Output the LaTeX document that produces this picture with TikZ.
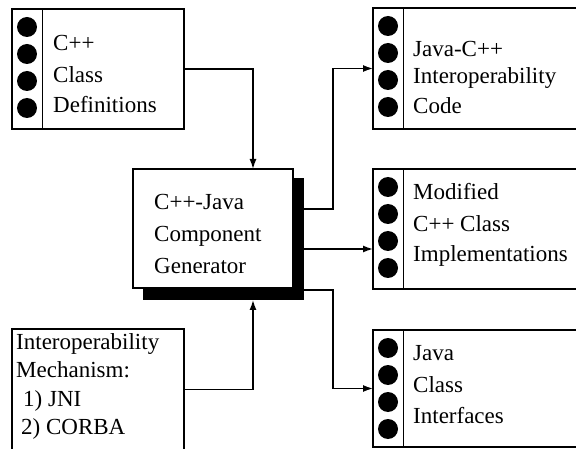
\documentclass[tikz,border=0pt]{standalone}
\usepackage{fontspec}
\setmainfont{Liberation Serif}
\usetikzlibrary{arrows.meta,calc}
\newcommand\dotcolumn[1]{%
  \foreach \o in {18,45,72,99}{\fill ($(#1.north west)+(15,\o)$) circle[radius=10pt];}
  \draw[line width=1.4pt] ($(#1.north west)+(30.5,0)$) -- ($(#1.south west)+(30.5,0)$);}
\begin{document}
\begin{tikzpicture}[x=1pt,y=-1pt,
  box/.style={draw,line width=1.4pt,inner sep=0pt,outer sep=0pt,anchor=north west,fill=white},
  lbl/.style={anchor=base west,inner sep=0pt,font=\fontsize{23}{28}\selectfont},
  arr/.style={line width=1.4pt,-{Latex[length=10pt,width=7pt]}}]
\useasboundingbox (0,0) rectangle (576,449);
\clip (0,0) rectangle (576,449);
% boxes
\node[box,minimum width=172pt,minimum height=120pt] (defs) at (12,9) {};
\node[box,minimum width=217pt,minimum height=121pt] (jcode) at (373,8) {};
\node[box,minimum width=217pt,minimum height=120pt] (mod) at (373,169) {};
\node[box,minimum width=217pt,minimum height=117pt] (jint) at (373,330) {};
\node[box,minimum width=172pt,minimum height=121pt] (mech) at (12,329) {};
\node[box,draw=none,fill=black,minimum width=161pt,minimum height=122pt] (gshadow) at (143,178) {};
\node[box,minimum width=160pt,minimum height=119pt] (gen) at (133,169) {};
\dotcolumn{defs}
\dotcolumn{jcode}
\dotcolumn{mod}
\dotcolumn{jint}
% texts
\node[lbl] (t1a) at (53,51) {C++};
\node[lbl] (t1b) at (53,83) {Class};
\node[lbl] (t1c) at (53,113) {Definitions};
\node[lbl] (t2a) at (413,57) {Java-C++};
\node[lbl] (t2b) at (413,84) {Interoperability};
\node[lbl] (t2c) at (413,114) {Code};
\node[lbl] (t3a) at (413,200) {Modified};
\node[lbl] (t3b) at (413,232) {C++ Class};
\node[lbl] (t3c) at (413,262) {Implementations};
\node[lbl] (t4a) at (413,360) {Java};
\node[lbl] (t4b) at (413,392) {Class};
\node[lbl] (t4c) at (413,423) {Interfaces};
\node[lbl] (tga) at (154,210) {C++-Java};
\node[lbl] (tgb) at (154,242) {Component};
\node[lbl] (tgc) at (154,273) {Generator};
\node[lbl] (t5a) at (16,349) {Interoperability};
\node[lbl] (t5b) at (16,377) {Mechanism:};
\node[lbl] (t5c) at (23,406) {1) JNI};
\node[lbl] (t5d) at (21,434) {2) CORBA};
% connectors
\coordinate (gx) at ($(gen.north west)!0.75!(gen.north east)$);
\draw[arr] (defs.east) -| (gx);
\draw[arr] (mech.east) -| (gx |- gshadow.south);
\draw[arr] ([yshift=30pt]gshadow.east) -- ++(29,0) |- (jcode.west);
\draw[arr] ([yshift=-10pt]gshadow.east) -- ([yshift=-10pt]gshadow.east -| mod.west);
\draw[arr] ([yshift=-51pt]gshadow.east) -- ++(29,0) |- (jint.west);
\end{tikzpicture}
\end{document}
